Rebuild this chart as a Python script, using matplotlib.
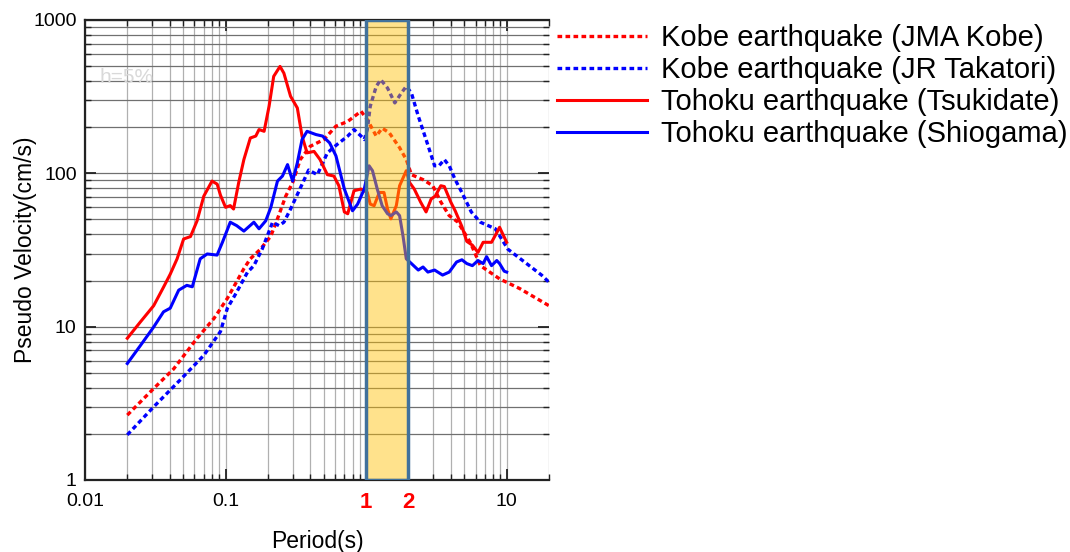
import matplotlib
matplotlib.use("Agg")
import matplotlib.pyplot as plt
from matplotlib.ticker import LogLocator, NullFormatter, FixedLocator, FixedFormatter

plt.rcParams['font.family'] = ['Liberation Sans', 'DejaVu Sans']

# --- data (period in s, pseudo velocity in cm/s) ---
kobe_jma_T = [0.02, 0.0308, 0.0427, 0.0627, 0.0826, 0.103, 0.135, 0.150, 0.177, 0.210,
              0.234, 0.268, 0.300, 0.340, 0.400, 0.500, 0.610, 0.740, 0.920, 1.02,
              1.18, 1.30, 1.46, 1.73, 1.93, 2.10, 2.54, 2.98, 3.40, 3.90,
              4.50, 5.50, 6.50, 8.90, 12.4, 20.0]
kobe_jma_V = [2.65, 3.95, 5.3, 8.4, 11.3, 15.3, 23.9, 27.7, 32, 39,
              50.5, 71, 87, 123, 150, 166, 203, 218, 254, 224,
              175, 197, 184, 147, 123, 98, 91, 83, 65, 53,
              48, 35.5, 25, 20.5, 17.7, 13.7]

kobe_jr_T = [0.02, 0.0308, 0.0476, 0.070, 0.092, 0.103, 0.120, 0.143, 0.159, 0.182,
             0.198, 0.216, 0.240, 0.260, 0.290, 0.340, 0.390, 0.450, 0.530, 0.620,
             0.740, 0.820, 0.920, 0.970, 1.02, 1.07, 1.18, 1.27, 1.42, 1.60,
             1.78, 1.93, 2.10, 2.35, 2.67, 3.07, 3.30, 3.60, 3.90, 4.30,
             4.80, 5.60, 6.50, 8.30, 10.2, 13.4, 17.7, 20.0]
kobe_jr_V = [1.97, 3.0, 4.5, 6.5, 9.3, 13.2, 16.8, 22.6, 25, 32,
             39, 48, 45.6, 48, 58.5, 80, 105, 98, 136, 154,
             175, 193, 175, 166, 193, 274, 369, 408, 360, 288,
             334, 369, 334, 236, 166, 112, 112, 123, 112, 91,
             75, 56, 48, 43.5, 32, 26.4, 21.7, 19.5]

tsukidate_T = [0.02, 0.0247, 0.0308, 0.0362, 0.0404, 0.0452, 0.0503, 0.0563, 0.0627, 0.070,
               0.0801, 0.0872, 0.092, 0.100, 0.108, 0.114, 0.124, 0.135, 0.150, 0.164,
               0.173, 0.188, 0.204, 0.220, 0.244, 0.260, 0.290, 0.324, 0.350, 0.380,
               0.426, 0.470, 0.530, 0.590, 0.640, 0.700, 0.740, 0.820, 0.920, 1.02,
               1.07, 1.14, 1.24, 1.34, 1.42, 1.50, 1.64, 1.73, 1.93, 2.04,
               2.20, 2.44, 2.67, 2.90, 3.10, 3.40, 3.60, 4.00, 4.30, 4.80,
               5.20, 5.70, 6.25, 6.80, 7.80, 8.50, 8.90, 9.40, 10.0]
tsukidate_V = [8.4, 10.7, 13.7, 18.1, 22, 27.7, 37.3, 38.7, 49, 71,
               89, 85, 72, 60, 61.6, 58.5, 87, 123, 170, 175,
               193, 188, 274, 429, 498, 450, 318, 267, 175, 136,
               139, 123, 98, 96, 83, 56, 54.5, 77, 79, 75,
               63, 61.5, 75, 75, 58.5, 50.5, 61.6, 83, 104, 87,
               79, 65, 56, 68, 71, 83, 82, 65, 57, 45,
               36, 34, 30.5, 35.5, 35.5, 41, 44.5, 40, 35.5]

shiogama_T = [0.02, 0.0247, 0.0308, 0.0362, 0.0404, 0.0464, 0.053, 0.058, 0.066, 0.074,
              0.087, 0.095, 0.108, 0.120, 0.135, 0.159, 0.173, 0.193, 0.210, 0.234,
              0.254, 0.276, 0.300, 0.324, 0.350, 0.380, 0.440, 0.490, 0.550, 0.610,
              0.700, 0.800, 0.870, 0.970, 1.05, 1.11, 1.20, 1.30, 1.42, 1.50,
              1.64, 1.73, 1.83, 1.93, 2.10, 2.35, 2.54, 2.75, 3.07, 3.50,
              3.90, 4.40, 4.80, 5.20, 5.70, 6.25, 6.80, 7.20, 7.80, 8.50,
              8.90, 9.60, 10.0]
shiogama_V = [5.75, 7.5, 9.95, 12.5, 13.2, 17.3, 18.6, 18.2, 27.7, 29.8,
              29.3, 35.5, 48, 45.6, 42, 48, 43.5, 49, 60, 89,
              96, 114, 89, 117, 166, 188, 179, 175, 158, 130,
              79, 57, 63, 79, 112, 104, 79, 61.5, 54.5, 53,
              56, 53, 39, 27.7, 25.8, 23.4, 24.5, 22.7, 23.4, 21.7,
              22.7, 26.4, 27.3, 25.8, 25, 27, 25.8, 28.6, 25, 27,
              25.8, 23, 22.7]

band = (1, 2)
x_ticks = [0.01, 0.1, 1, 2, 10]
x_labels = ['0.01', '0.1', '1', '2', '10']
y_ticks = [1, 10, 100, 1000]
y_labels = ['1', '10', '100', '1000']

fig = plt.figure(figsize=(10.7, 5.52), dpi=100)
ax = fig.add_axes([85 / 1070, 1 - 480 / 552, 464 / 1070, 460 / 552])

dot = (0, (1.4, 1.0))
ax.plot(kobe_jma_T, kobe_jma_V, color='#ff0000', lw=2.4, ls=dot, label='Kobe earthquake (JMA Kobe)')
ax.plot(kobe_jr_T, kobe_jr_V, color='#0000ff', lw=2.4, ls=dot, label='Kobe earthquake (JR Takatori)')
ax.plot(tsukidate_T, tsukidate_V, color='#ff0000', lw=2.2, label='Tohoku earthquake (Tsukidate)')
ax.plot(shiogama_T, shiogama_V, color='#0000ff', lw=2.2, label='Tohoku earthquake (Shiogama)')

# highlighted period band (semi transparent, drawn over the curves)
ax.axvspan(band[0], band[1], facecolor=(1.0, 0.75, 0.0, 0.45), edgecolor='none', zorder=4)
ax.axvspan(band[0], band[1], facecolor='none', edgecolor='#41719c', lw=2.5, zorder=5)

ax.set_xscale('log')
ax.set_yscale('log')
ax.set_xlim(0.01, 20)
ax.set_ylim(1, 1000)

ax.xaxis.set_major_locator(FixedLocator(x_ticks))
ax.xaxis.set_major_formatter(FixedFormatter(x_labels))
ax.xaxis.set_minor_locator(LogLocator(base=10, subs=range(2, 10), numticks=20))
ax.xaxis.set_minor_formatter(NullFormatter())
ax.yaxis.set_major_locator(FixedLocator(y_ticks))
ax.yaxis.set_major_formatter(FixedFormatter(y_labels))
ax.yaxis.set_minor_locator(LogLocator(base=10, subs=range(2, 10), numticks=20))
ax.yaxis.set_minor_formatter(NullFormatter())

ax.grid(which='both', axis='x', color='#b0b0b0', lw=0.9)
ax.grid(which='both', axis='y', color='#707070', lw=0.9)
ax.set_axisbelow(True)

ax.tick_params(which='both', direction='in', top=True, right=True, labelsize=14, color='#222222')
ax.tick_params(which='major', length=8, width=1.3, pad=6)
ax.tick_params(axis='x', which='major', pad=9)
ax.tick_params(which='minor', length=4, width=1.0)
for lbl in ax.get_xticklabels():
    if lbl.get_text() in ('1', '2'):
        lbl.set_color('#ff0000')
        lbl.set_fontweight('bold')
        lbl.set_fontsize(16)

for side in ['left', 'bottom', 'top']:
    ax.spines[side].set_linewidth(1.6)
    ax.spines[side].set_color('#222222')
ax.spines['right'].set_visible(False)

ax.set_xlabel('Period(s)', fontsize=16.5, labelpad=12)
ax.set_ylabel('Pseudo Velocity(cm/s)', fontsize=16.5, labelpad=-3)

ax.text(0.032, 0.874, 'h=5%', transform=ax.transAxes, fontsize=15, color='#d9d9d9', va='center')

fig.legend(loc='upper left', bbox_to_anchor=(557 / 1070, 1 - 24.5 / 552), frameon=False,
           fontsize=21, handlelength=3.1, handletextpad=0.48, labelspacing=0.13,
           borderpad=0, borderaxespad=0)

fig.savefig('out.png', dpi=100)
